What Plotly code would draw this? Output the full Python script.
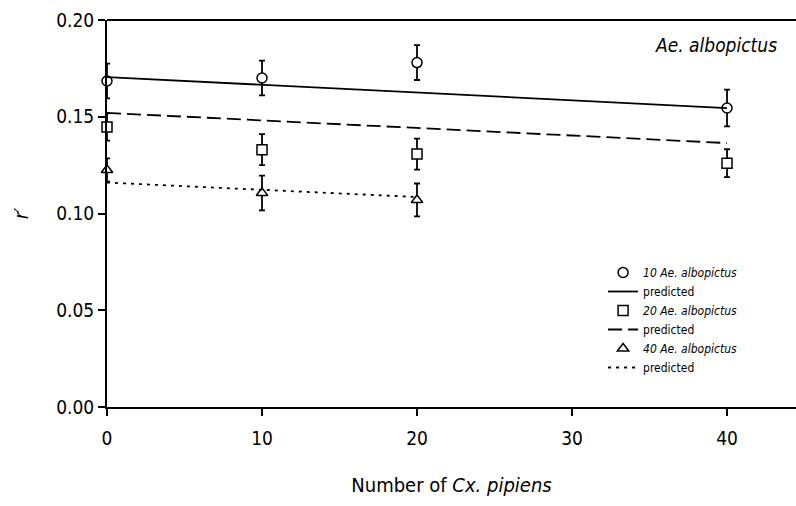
import plotly.graph_objects as go

x_cx = [0, 10, 20, 40]
obs10 = [0.1685, 0.170, 0.178, 0.1545]
err10 = [0.009, 0.009, 0.009, 0.0095]
obs20 = [0.1447, 0.133, 0.1307, 0.126]
err20 = [0.007, 0.008, 0.008, 0.0072]
x40 = [0, 10, 20]
obs40 = [0.1225, 0.1106, 0.107]
err40 = [0.006, 0.009, 0.0085]

pred_x = [0, 40]
pred10 = [0.1705, 0.1545]
pred20 = [0.152, 0.1364]
pred40_x = [0, 20]
pred40 = [0.116, 0.1085]

FONT = "DejaVu Sans Condensed, Liberation Sans, Arial"

fig = go.Figure()

def obs_trace(x, y, e, sym, name):
    return go.Scatter(
        x=x, y=y, mode="markers", name=name, cliponaxis=False,
        marker=dict(symbol=sym, size=10, color="white",
                    line=dict(color="black", width=1.5)),
        error_y=dict(type="data", array=e, color="black", thickness=1.8, width=3),
    )

def pred_trace(x, y, dash):
    return go.Scatter(x=x, y=y, mode="lines", name="predicted", cliponaxis=False,
                      line=dict(color="black", width=1.8, dash=dash))

fig.add_trace(obs_trace(x_cx, obs10, err10, "circle", "<i>10 Ae. albopictus</i>"))
fig.add_trace(pred_trace(pred_x, pred10, "solid"))
fig.add_trace(obs_trace(x_cx, obs20, err20, "square", "<i>20 Ae. albopictus</i>"))
fig.add_trace(pred_trace(pred_x, pred20, "14px,6px"))
fig.add_trace(obs_trace(x40, obs40, err40, "triangle-up", "<i>40 Ae. albopictus</i>"))
fig.add_trace(pred_trace(pred40_x, pred40, "3px,5px"))

fig.update_layout(
    width=796, height=506,
    margin=dict(l=107, r=0, t=20, b=99),
    paper_bgcolor="white", plot_bgcolor="white",
    font=dict(family=FONT, color="black", size=19),
    showlegend=True,
    legend=dict(x=0.72, y=0.385, xanchor="left", yanchor="top",
                font=dict(size=12, family=FONT), tracegroupgap=0,
                itemwidth=30, bgcolor="rgba(0,0,0,0)"),
    annotations=[dict(text="<i>Ae. albopictus</i>", x=0.975, y=0.935,
                      xref="paper", yref="paper", xanchor="right", yanchor="middle",
                      showarrow=False, font=dict(size=19, family=FONT))],
)
fig.update_xaxes(range=[0, 44.45], tickvals=[0, 10, 20, 30, 40],
                 showline=True, linecolor="black", linewidth=2,
                 ticks="outside", ticklen=7, tickwidth=2, tickcolor="black",
                 ticklabelstandoff=6,
                 showgrid=False, zeroline=False, mirror=False,
                 title=dict(text="Number of <i>Cx. pipiens</i>", font=dict(size=20), standoff=30))
fig.update_yaxes(range=[0, 0.2], tickvals=[0, 0.05, 0.10, 0.15, 0.20], tickformat=".2f",
                 showline=True, linecolor="black", linewidth=2,
                 ticks="outside", ticklen=7, tickwidth=2, tickcolor="black",
                 showgrid=False, zeroline=False,
                 title=dict(text="<i>r′</i>", font=dict(size=20), standoff=22))
fig.add_shape(type="line", xref="paper", yref="paper", x0=0, x1=1, y0=1, y1=1,
              line=dict(color="black", width=2))

fig.write_html("out.html")
